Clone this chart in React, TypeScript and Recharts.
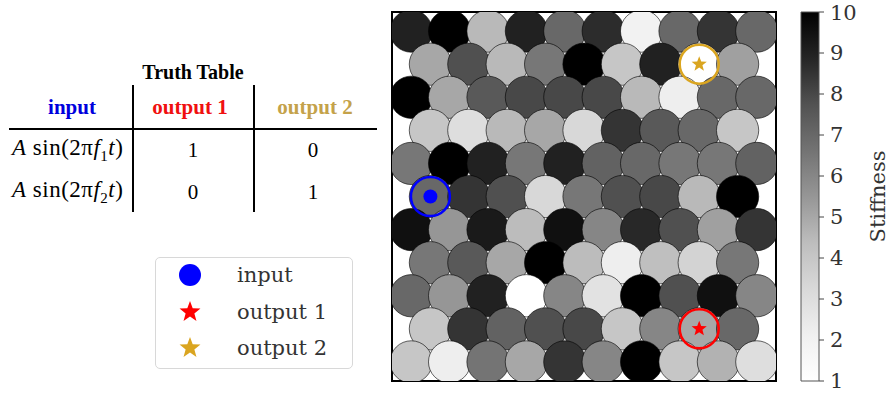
import React from 'react'
import { ScatterChart, Scatter, XAxis, YAxis, ComposedChart, Bar, ReferenceArea } from 'recharts'

// stiffness per cell, rows listed top to bottom (10 / 9 cells alternating)
const stiffRows: number[][] = [
  [9, 10, 4.5, 9, 7, 8.7, 2, 7, 8.5, 7],
  [5, 7.8, 4.5, 6.5, 10, 4, 9, 1, 5.2],
  [10, 5, 7.5, 8, 8, 8, 4.5, 2.2, 7, 7],
  [4, 3, 4.5, 5, 3.3, 8.5, 7.5, 7, 4],
  [6.5, 10, 9, 6.5, 9, 7.2, 7, 6.5, 6.5, 7.2],
  [7, 8.5, 7.8, 3.3, 6.5, 7.8, 8, 4.5, 10],
  [9.5, 5.5, 9.2, 4.4, 9.5, 6, 8.8, 7.8, 5.2, 8.5],
  [6.5, 7.5, 5, 10, 4.4, 2.2, 4.3, 3.5, 6.5],
  [7, 5.5, 9, 1, 6, 2.8, 10, 7.8, 9.5, 6],
  [4, 8.5, 7.2, 7.8, 8, 4, 6, 5, 7],
  [4, 2.2, 6.6, 5, 8.5, 6, 10, 4, 4.7, 3],
]

// [row from top, column in row]
const inputCell = [5, 0]
const output1Cell = [9, 7]
const output2Cell = [1, 7]

const xTicks = [0, 2, 4, 6, 8, 10]
const yTicks = [0, 2, 4, 6, 8]
const cbTicks = [1, 2, 3, 4, 5, 6, 7, 8, 9, 10]
const cbRange = [{ name: 'stiffness', range: [1, 10] }]

const ROW_H = Math.sqrt(3) / 2
const N_ROWS = stiffRows.length
const Y_MAX = 1 + (N_ROWS - 1) * ROW_H

const PLOT_W = 384
const UNIT = PLOT_W / 10
const CELL_R = 0.55 * UNIT

const GREYS = [255, 240, 217, 189, 150, 115, 82, 37, 0]
function greys(v: number) {
  const t = Math.max(0, Math.min(1, (v - 1) / 9))
  const p = t * 8
  const i = Math.min(7, Math.floor(p))
  const g = Math.round(GREYS[i] + (GREYS[i + 1] - GREYS[i]) * (p - i))
  return `rgb(${g},${g},${g})`
}

const cellX = (row: number, col: number) => (row % 2 === 0 ? 0.5 : 1) + col
const cellY = (row: number) => 0.5 + (N_ROWS - 1 - row) * ROW_H

const cells = stiffRows.flatMap((vals, row) =>
  vals.map((v, col) => ({ x: cellX(row, col), y: cellY(row), v }))
)
const at = (c: number[]) => [{ x: cellX(c[0], c[1]), y: cellY(c[0]) }]

function starPath(cx: number, cy: number, R: number, r: number) {
  let d = ''
  for (let k = 0; k < 10; k++) {
    const a = -Math.PI / 2 + (k * Math.PI) / 5
    const rad = k % 2 ? r : R
    d += (k ? 'L' : 'M') + (cx + rad * Math.cos(a)).toFixed(2) + ',' + (cy + rad * Math.sin(a)).toFixed(2)
  }
  return d + 'Z'
}

const GOLD = '#daa520'
const serif = "'DejaVu Serif', serif"
const times = "'Liberation Serif', 'Times New Roman', serif"

const Cell = (p: any) => (
  <circle cx={p.cx} cy={p.cy} r={CELL_R} fill={greys(p.payload.v)} stroke="rgba(0,0,0,0.6)" strokeWidth={1} />
)
const InputMark = (p: any) => (
  <g>
    <circle cx={p.cx} cy={p.cy} r={19.5} fill="none" stroke="blue" strokeWidth={2.5} />
    <circle cx={p.cx} cy={p.cy} r={7} fill="blue" />
  </g>
)
const starMark = (color: string) => (p: any) => (
  <g>
    <circle cx={p.cx} cy={p.cy} r={19.5} fill="none" stroke={color} strokeWidth={2.5} />
    <path d={starPath(p.cx, p.cy, 8, 3.4)} fill={color} />
  </g>
)
const Nothing = () => <g />

const frameLine = { stroke: '#000', strokeWidth: 2 }

function TruthTable() {
  const c = (x: number, y: number): React.CSSProperties => ({
    position: 'absolute', left: x, top: y, transform: 'translate(-50%,-50%)', whiteSpace: 'nowrap',
  })
  const expr = (k: number) => (
    <span style={{ fontSize: 23, letterSpacing: 0.5 }}>
      <i>A</i> sin(2π<i>f</i><sub style={{ fontSize: 15 }}>{k}</sub><i>t</i>)
    </span>
  )
  return (
    <div style={{ position: 'absolute', left: 0, top: 0, width: 385, height: 240, fontFamily: times, fontSize: 21 }}>
      <div style={{ ...c(193, 72), fontWeight: 'bold', fontSize: 20 }}>Truth Table</div>
      <div style={{ ...c(72, 107), fontWeight: 'bold', color: '#0000dd' }}>input</div>
      <div style={{ ...c(190, 107), fontWeight: 'bold', color: '#f01010' }}>output 1</div>
      <div style={{ ...c(315, 107), fontWeight: 'bold', color: '#c4a24a' }}>output 2</div>
      <div style={{ position: 'absolute', left: 9, top: 128, width: 368, height: 2, background: '#000' }} />
      <div style={{ position: 'absolute', left: 132, top: 85, width: 2, height: 127, background: '#000' }} />
      <div style={{ position: 'absolute', left: 253, top: 85, width: 2, height: 127, background: '#000' }} />
      <div style={{ position: 'absolute', left: 12, top: 135 }}>{expr(1)}</div>
      <div style={{ position: 'absolute', left: 12, top: 177 }}>{expr(2)}</div>
      <div style={c(193, 150)}>1</div>
      <div style={c(313, 150)}>0</div>
      <div style={c(193, 192)}>0</div>
      <div style={c(313, 192)}>1</div>
    </div>
  )
}

function MarkerLegend() {
  const rows = [
    { label: 'input', icon: <circle cx={12} cy={12} r={11} fill="blue" /> },
    { label: 'output 1', icon: <path d={starPath(12, 12, 11, 4.6)} fill="red" /> },
    { label: 'output 2', icon: <path d={starPath(12, 12, 11, 4.6)} fill={GOLD} /> },
  ]
  return (
    <div style={{
      position: 'absolute', left: 155, top: 257, width: 196, height: 110,
      border: '1px solid #d8d8d8', borderRadius: 5, fontFamily: serif, fontSize: 21, color: '#333',
    }}>
      {rows.map((r, i) => (
        <div key={r.label} style={{ position: 'absolute', left: 0, top: 5 + i * 36.5, height: 24, display: 'flex', alignItems: 'center' }}>
          <svg width={24} height={24} style={{ marginLeft: 22 }}>{r.icon}</svg>
          <span style={{ marginLeft: 35, lineHeight: '24px' }}>{r.label}</span>
        </div>
      ))}
    </div>
  )
}

export default function App() {
  return (
    <div style={{ position: 'absolute', left: 0, top: 0, width: 891, height: 398, background: '#fff' }}>
      <TruthTable />
      <MarkerLegend />
      <div style={{ position: 'absolute', left: 380, top: 0 }}>
        <ScatterChart width={400} height={398} margin={{ top: 11, right: 3, bottom: 0, left: 0 }}>
          <XAxis dataKey="x" type="number" domain={[0, 10]} ticks={xTicks} allowDataOverflow
            tick={false} tickSize={5} height={17} axisLine={frameLine} tickLine={{ stroke: '#000' }} />
          <YAxis dataKey="y" type="number" domain={[0, Y_MAX]} ticks={yTicks} allowDataOverflow
            tick={false} tickSize={5} width={12} axisLine={frameLine} tickLine={{ stroke: '#000' }} />
          <XAxis xAxisId="top" dataKey="x" orientation="top" type="number" domain={[0, 10]} height={1}
            tick={false} tickLine={false} axisLine={frameLine} />
          <YAxis yAxisId="right" dataKey="y" orientation="right" type="number" domain={[0, Y_MAX]} width={1}
            tick={false} tickLine={false} axisLine={frameLine} />
          <Scatter data={cells} shape={Cell} isAnimationActive={false} />
          <Scatter data={at(inputCell)} shape={InputMark} isAnimationActive={false} />
          <Scatter data={at(output1Cell)} shape={starMark('red')} isAnimationActive={false} />
          <Scatter data={at(output2Cell)} shape={starMark(GOLD)} isAnimationActive={false} />
          <Scatter xAxisId="top" yAxisId="right" data={cells} shape={Nothing} isAnimationActive={false} />
          <ReferenceArea x1={0} x2={10} y1={0} y2={Y_MAX} fill="none" stroke="#000" strokeWidth={2} ifOverflow="visible" />
        </ScatterChart>
      </div>
      <div style={{ position: 'absolute', left: 790, top: 0 }}>
        <ComposedChart width={101} height={398} margin={{ top: 12, right: 0, bottom: 17, left: 11 }}
          data={cbRange} barCategoryGap={0}>
          <defs>
            <linearGradient id="cbarGrad" x1="0" y1="0" x2="0" y2="1">
              {GREYS.map((_, i) => (
                <stop key={i} offset={i / 8} stopColor={greys(10 - (9 * i) / 8)} />
              ))}
            </linearGradient>
          </defs>
          <XAxis dataKey="name" type="category" hide />
          <YAxis type="number" orientation="right" domain={[1, 10]} ticks={cbTicks} width={72}
            tickSize={5} tickMargin={6} axisLine={false} tickLine={{ stroke: '#444' }}
            tick={{ fill: '#333', fontSize: 21, fontFamily: serif }}
            label={(p: any) => {
              const vb = p.viewBox
              const x = vb.x + vb.width - 13
              const y = vb.y + vb.height / 2
              return (
                <text x={x} y={y} transform={`rotate(-90, ${x}, ${y})`} textAnchor="middle"
                  dominantBaseline="central" fill="#333" fontSize={21} fontFamily={serif}>Stiffness</text>
              )
            }} />
          <Bar dataKey="range" fill="url(#cbarGrad)" stroke="#555" strokeWidth={1} isAnimationActive={false} />
        </ComposedChart>
      </div>
    </div>
  )
}
